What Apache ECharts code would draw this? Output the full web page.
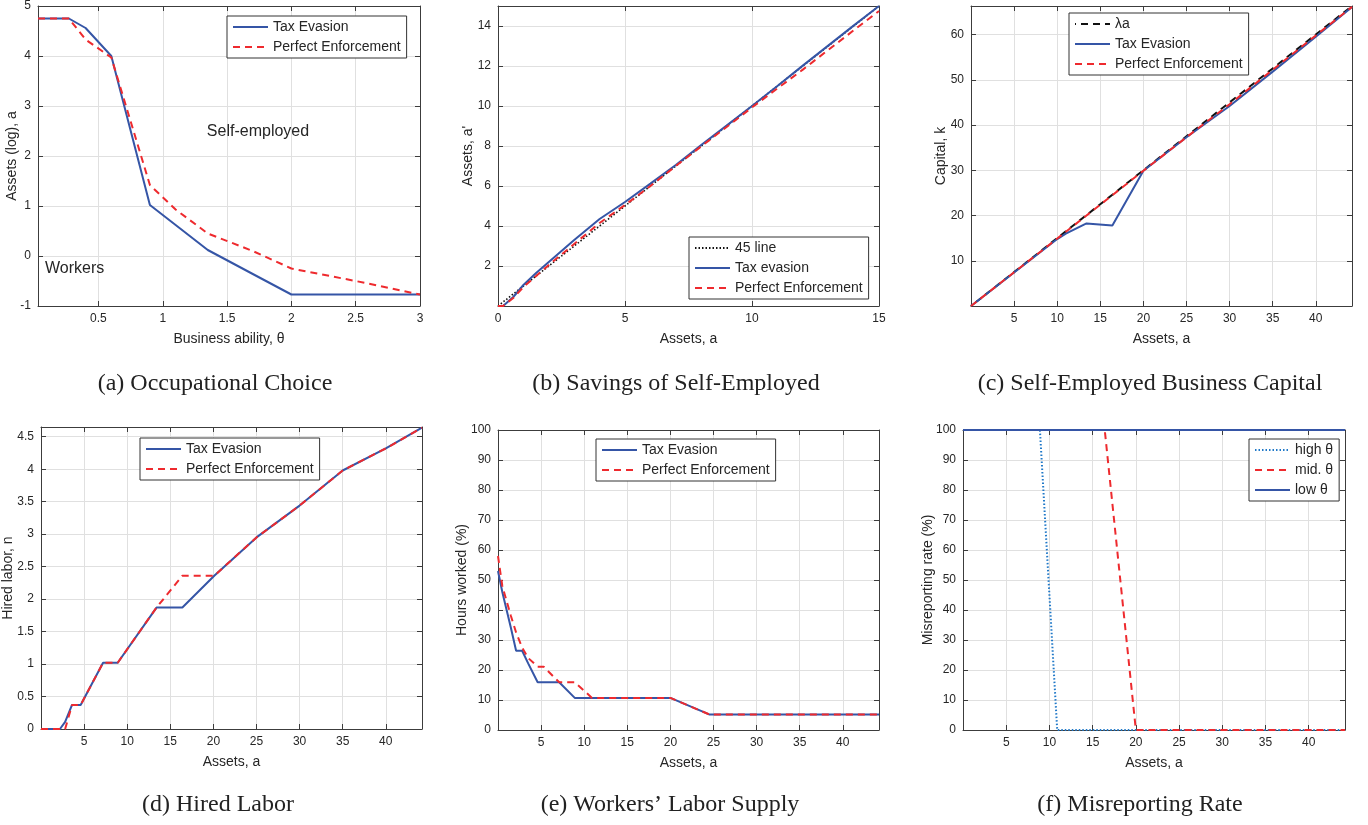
<!DOCTYPE html>
<html>
<head>
<meta charset="utf-8">
<title>Tax evasion vs perfect enforcement</title>
<script src="https://cdn.jsdelivr.net/npm/echarts@6.0.0/dist/echarts.min.js"></script>
<style>
html, body { margin: 0; padding: 0; background: #fff; }
#main { width: 1368px; height: 825px; }
</style>
</head>
<body>
<div id="main"></div>
<script>
// ------------------------------------------------------------- (a) occupational choice
var aAbility = [0.03, 0.27, 0.4, 0.6, 0.9, 1.1, 1.35, 1.7, 2.0, 2.5, 3.0];
var aTaxEvasion = [4.75, 4.75, 4.56, 4.0, 1.02, 0.62, 0.12, -0.36, -0.77, -0.77, -0.77];
var aPerfect = [4.75, 4.75, 4.33, 3.97, 1.42, 0.93, 0.45, 0.1, -0.25, -0.5, -0.77];
var aXTicks = [0.5, 1, 1.5, 2, 2.5, 3];
var aYTicks = [-1, 0, 1, 2, 3, 4, 5];

// ------------------------------------------------------------- (b) savings of self-employed
var bAssets = [0, 0.2, 0.6, 1, 1.5, 2, 3, 4, 5, 6, 7, 8, 9, 10, 11, 12, 13, 14, 15];
var b45 = [0, 0.2, 0.6, 1, 1.5, 2, 3, 4, 5, 6, 7, 8, 9, 10, 11, 12, 13, 14, 15];
var bTaxEvasion = [0, 0, 0.45, 1.05, 1.65, 2.2, 3.3, 4.35, 5.2, 6.12, 7.05, 8.05, 9.02, 10.0, 11.0, 12.02, 13.02, 14.02, 15.0];
var bPerfect = [0, 0, 0.4, 0.95, 1.5, 2.05, 3.1, 4.15, 5.05, 6.0, 7.0, 7.98, 8.95, 9.93, 10.88, 11.82, 12.8, 13.78, 14.75];
var bXTicks = [0, 5, 10, 15];
var bYTicks = [2, 4, 6, 8, 10, 12, 14];

// ------------------------------------------------------------- (c) business capital
var cAssets = [0, 5, 10, 11, 13.4, 16.4, 20, 25, 30, 35, 40, 44.2];
var cLambda = [0, 7.5, 15, 16.5, 20.1, 24.6, 30, 37.5, 45, 52.5, 60, 66.3];
var cTaxEvasion = [0, 7.4, 14.8, 16.0, 18.25, 17.8, 29.9, 37.3, 44.2, 51.8, 59.5, 66.1];
var cPerfect = [0, 7.45, 14.9, 16.4, 20.0, 24.5, 29.9, 37.3, 44.6, 52.2, 59.8, 66.1];
var cYTicks = [10, 20, 30, 40, 50, 60];

// ------------------------------------------------------------- (d) hired labor
var dAssets = [0, 2.2, 2.8, 2.9, 3.6, 4.6, 7.2, 8.9, 13.4, 16.4, 20.1, 25, 30, 35, 40, 44.2];
var dTaxEvasion = [0, 0, 0.11, 0.14, 0.37, 0.37, 1.02, 1.02, 1.87, 1.87, 2.36, 2.95, 3.44, 3.98, 4.32, 4.64];
var dPerfect = [0, 0, 0, 0, 0.37, 0.37, 1.02, 1.02, 1.87, 2.36, 2.36, 2.95, 3.44, 3.98, 4.32, 4.64];
var dYTicks = [0, 0.5, 1, 1.5, 2, 2.5, 3, 3.5, 4, 4.5];

// ------------------------------------------------------------- (e) workers' labor supply
var eAssets = [0, 0.5, 1, 1.5, 2.1, 2.8, 3.5, 4.6, 5.3, 7.1, 8.9, 10.3, 10.9, 20, 24.5, 44.2];
var eTaxEvasion = [53, 46, 40, 34, 26.4, 26.4, 22.2, 15.9, 15.9, 15.9, 10.7, 10.7, 10.7, 10.7, 5.2, 5.2];
var ePerfect = [58, 48, 43, 38, 32.5, 27.5, 24, 21.1, 21.1, 15.9, 15.9, 12.3, 10.7, 10.7, 5.2, 5.2];

// ------------------------------------------------------------- (f) misreporting rate
var fAssets = [0, 8.9, 10.9, 16.4, 20, 44.2];
var fHigh = [100, 100, 0, 0, 0, 0];
var fMid = [100, 100, 100, 100, 0, 0];
var fLow = [100, 100, 100, 100, 100, 100];

// shared ticks of the asset axes / percent axes
var assetTicks = [5, 10, 15, 20, 25, 30, 35, 40];
var pctTicks = [0, 10, 20, 30, 40, 50, 60, 70, 80, 90, 100];

var captions = ['(a) Occupational Choice', '(b) Savings of Self-Employed', '(c) Self-Employed Business Capital',
                '(d) Hired Labor', '(e) Workers\u2019 Labor Supply', '(f) Misreporting Rate'];

// ------------------------------------------------------------- style
var blue = '#3555a6';
var red = '#ee2a2e';
var black = '#111111';
var skyBlue = '#1f78c8';
var axisColor = '#3c3c3c';
var textColor = '#262626';
var gridColor = '#e0e0e0';
var sans = '"Liberation Sans", Arial, sans-serif';
var dashed = [7, 5];
var dotted = [1.5, 2];

function pairs(xs, ys) {
    return xs.map(function (x, i) { return [x, ys[i]]; });
}

function tickFormatter(ticks) {
    return function (v) {
        for (var i = 0; i < ticks.length; i++) {
            if (Math.abs(v - ticks[i]) < 1e-6) return String(ticks[i]);
        }
        return '';
    };
}

// layout of the six boxes (pixels)
var panels = [
    { grid: { left: 38, top: 6, width: 382, height: 300 },
      x: { min: 0.03, max: 3, split: 6, ticks: aXTicks, name: 'Business ability, \u03b8', gap: 26 },
      y: { min: -1, max: 5, interval: 1, ticks: aYTicks, name: 'Assets (log), a', gap: 19 } },
    { grid: { left: 498, top: 6, width: 381, height: 300 },
      x: { min: 0, max: 15, interval: 5, ticks: bXTicks, name: 'Assets, a', gap: 26 },
      y: { min: 0, max: 15, interval: 2, ticks: bYTicks, name: "Assets, a'", gap: 23 } },
    { grid: { left: 971, top: 6, width: 381, height: 300 },
      x: { min: 0, max: 44.2, interval: 5, ticks: assetTicks, name: 'Assets, a', gap: 26 },
      y: { min: 0, max: 66.3, interval: 10, ticks: cYTicks, name: 'Capital, k', gap: 23 } },
    { grid: { left: 41, top: 427, width: 381, height: 302 },
      x: { min: 0, max: 44.2, interval: 5, ticks: assetTicks, name: 'Assets, a', gap: 26 },
      y: { min: 0, max: 4.65, interval: 0.5, ticks: dYTicks, name: 'Hired labor, n', gap: 26 } },
    { grid: { left: 498, top: 430, width: 381, height: 300 },
      x: { min: 0, max: 44.2, interval: 5, ticks: assetTicks, name: 'Assets, a', gap: 26 },
      y: { min: 0, max: 100, interval: 10, ticks: pctTicks, name: 'Hours worked (%)', gap: 29 } },
    { grid: { left: 963, top: 430, width: 382, height: 300 },
      x: { min: 0, max: 44.2, interval: 5, ticks: assetTicks, name: 'Assets, a', gap: 26 },
      y: { min: 0, max: 100, interval: 10, ticks: pctTicks, name: 'Misreporting rate (%)', gap: 28 } }
];

var captionPos = [[215, 384], [676, 384], [1150, 384], [218, 805], [670, 805], [1140, 805]];

// one labelled axis plus a mirrored one, MATLAB "box on" look
function makeAxis(i, p, pos, labelled) {
    var ax = {
        type: 'value', gridIndex: i, position: pos,
        min: p.min, max: p.max,
        axisLine: { show: true, onZero: false, lineStyle: { color: axisColor, width: 1 } },
        axisTick: { show: true, inside: true, length: 5, lineStyle: { color: axisColor } },
        axisLabel: { show: false },
        splitLine: { show: false }
    };
    if (p.interval) ax.interval = p.interval;
    if (p.split) ax.splitNumber = p.split;
    if (labelled) {
        ax.name = p.name;
        ax.nameLocation = 'middle';
        ax.nameGap = p.gap;
        ax.nameTextStyle = { fontSize: 14, color: textColor, fontFamily: sans };
        ax.axisLabel = { show: true, margin: 7, fontSize: 12, color: textColor, fontFamily: sans,
                         formatter: tickFormatter(p.ticks) };
        ax.splitLine = { show: true, lineStyle: { color: gridColor, width: 1 } };
        // vertical names are placed from the axis line, not pushed past the labels
        if (pos === 'left') ax.nameMoveOverlap = false;
    }
    return ax;
}

var grids = [], xAxes = [], yAxes = [];
panels.forEach(function (p, i) {
    grids.push(Object.assign({ containLabel: false }, p.grid));
    xAxes.push(makeAxis(i, p.x, 'bottom', true));
    xAxes.push(makeAxis(i, p.x, 'top', false));
    yAxes.push(makeAxis(i, p.y, 'left', true));
    yAxes.push(makeAxis(i, p.y, 'right', false));
});

function line(i, name, xs, ys, color, type, width, dashOffset) {
    return {
        type: 'line', name: name,
        xAxisIndex: 2 * i, yAxisIndex: 2 * i,
        data: pairs(xs, ys),
        symbol: 'none', silent: true,
        lineStyle: { color: color, width: width || 2, type: type || 'solid', dashOffset: dashOffset || 0 },
        itemStyle: { color: color }
    };
}

var series = [
    line(0, 'Tax Evasion', aAbility, aTaxEvasion, blue),
    line(0, 'Perfect Enforcement', aAbility, aPerfect, red, dashed),

    line(1, '45 line', bAssets, b45, black, dotted, 1.6),
    line(1, 'Tax evasion', bAssets, bTaxEvasion, blue),
    line(1, 'Perfect Enforcement', bAssets, bPerfect, red, dashed),

    line(2, '\u03bba', cAssets, cLambda, black, dashed, 2, 6),
    line(2, 'Tax Evasion', cAssets, cTaxEvasion, blue),
    line(2, 'Perfect Enforcement', cAssets, cPerfect, red, dashed),

    line(3, 'Tax Evasion', dAssets, dTaxEvasion, blue),
    line(3, 'Perfect Enforcement', dAssets, dPerfect, red, dashed),

    line(4, 'Tax Evasion', eAssets, eTaxEvasion, blue),
    line(4, 'Perfect Enforcement', eAssets, ePerfect, red, dashed),

    line(5, 'high \u03b8', fAssets, fHigh, skyBlue, dotted, 2),
    line(5, 'mid. \u03b8', fAssets, fMid, red, dashed),
    line(5, 'low \u03b8', fAssets, fLow, blue)
];

function legendBox(left, top, names) {
    return {
        left: left, top: top, orient: 'vertical',
        data: names, selectedMode: false,
        backgroundColor: '#fff', borderColor: '#333', borderWidth: 1,
        padding: [4, 6, 4, 5], itemGap: 6, itemWidth: 35, itemHeight: 14,
        itemStyle: { opacity: 0 },   // line sample only, no marker
        textStyle: { fontSize: 14, color: textColor, fontFamily: sans }
    };
}

var legends = [
    legendBox(227, 16, ['Tax Evasion', 'Perfect Enforcement']),
    legendBox(689, 237, ['45 line', 'Tax evasion', 'Perfect Enforcement']),
    legendBox(1069, 13, ['\u03bba', 'Tax Evasion', 'Perfect Enforcement']),
    legendBox(140, 438, ['Tax Evasion', 'Perfect Enforcement']),
    legendBox(596, 439, ['Tax Evasion', 'Perfect Enforcement']),
    legendBox(1249, 439, ['high \u03b8', 'mid. \u03b8', 'low \u03b8'])
];

// captions under each panel and the two region labels of panel (a)
var graphics = captions.map(function (t, i) {
    return {
        type: 'text', x: captionPos[i][0], y: captionPos[i][1], silent: true,
        style: { text: t, fill: '#222', font: '24px "Liberation Serif", serif',
                 align: 'center', verticalAlign: 'middle', textAlign: 'center', textVerticalAlign: 'middle' }
    };
});
graphics.push({ type: 'text', x: 258, y: 132, silent: true, z: 100,
    style: { text: 'Self-employed', fill: textColor, font: '16px ' + sans,
             align: 'center', verticalAlign: 'middle', textAlign: 'center', textVerticalAlign: 'middle' } });
graphics.push({ type: 'text', x: 45, y: 269, silent: true, z: 100,
    style: { text: 'Workers', fill: textColor, font: '16px ' + sans,
             align: 'left', verticalAlign: 'middle', textAlign: 'left', textVerticalAlign: 'middle' } });

var myChart = echarts.init(document.getElementById('main'), null, { renderer: 'canvas' });
myChart.setOption({
    animation: false,
    backgroundColor: '#fff',
    grid: grids,
    xAxis: xAxes,
    yAxis: yAxes,
    legend: legends,
    graphic: graphics,
    series: series
});
</script>
</body>
</html>
